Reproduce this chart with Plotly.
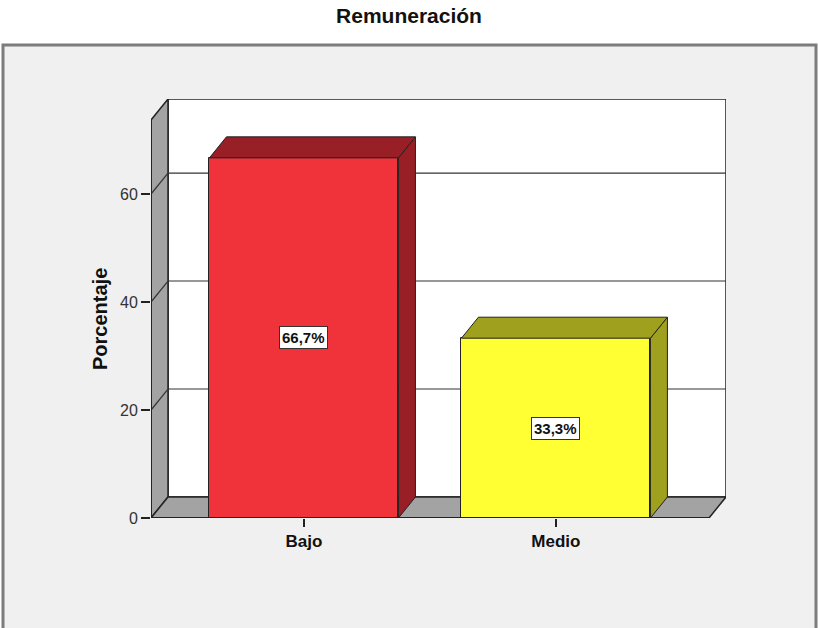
import plotly.graph_objects as go

# ---- data -------------------------------------------------------------
categories = ["Bajo", "Medio"]
percentages = [66.7, 33.3]
y_ticks = [0, 20, 40, 60]

face_colors = ["#f0323a", "#ffff33"]
shade_colors = ["#971f25", "#a0a01f"]

# ---- geometry of the pseudo-3D frame (data units) ----------------------
W, H = 818, 628
M_L, M_R, M_T, M_B = 151, 92, 99, 110
X_RANGE = [-0.607, 1.675]
Y_RANGE = [0, 77.6]
DX, DY = 0.0675, 3.89          # depth offset of the back plane
BAR_W = 0.75

x0 = X_RANGE[0]                 # front-left corner
x1 = X_RANGE[1] - DX            # front-right corner
y_top = Y_RANGE[1]              # top of the back wall
y_top_front = y_top - DY        # top of the front (axis) edge

EDGE = "#222222"
WALL = "#a3a3a3"
FONT = "Liberation Sans, Arial, sans-serif"

shapes = []


def path(points):
    return "M " + " L ".join(f"{px},{py}" for px, py in points) + " Z"


# outer chart frame (paper coordinates derived from the margins)
pw, ph = W - M_L - M_R, H - M_T - M_B
shapes.append(dict(
    type="rect", xref="paper", yref="paper", layer="below",
    x0=(3 - M_L) / pw, x1=(816 - M_L) / pw,
    y0=(H - M_B - 660) / ph, y1=(H - M_B - 45) / ph,
    fillcolor="#f0f0f0", line=dict(color="#7c7c7c", width=3),
))

# back wall
shapes.append(dict(
    type="rect", xref="x", yref="y", layer="below",
    x0=x0 + DX, x1=x1 + DX, y0=DY, y1=y_top,
    fillcolor="white", line=dict(color=EDGE, width=1.5),
))
# left wall
shapes.append(dict(
    type="path", xref="x", yref="y", layer="below",
    path=path([(x0, 0), (x0 + DX, DY), (x0 + DX, y_top), (x0, y_top_front)]),
    fillcolor=WALL, line=dict(color=EDGE, width=1.5),
))
# floor
shapes.append(dict(
    type="path", xref="x", yref="y", layer="below",
    path=path([(x0, 0), (x1, 0), (x1 + DX, DY), (x0 + DX, DY)]),
    fillcolor=WALL, line=dict(color=EDGE, width=1.5),
))
# gridlines on back wall and left wall
for v in y_ticks[1:]:
    shapes.append(dict(type="line", xref="x", yref="y", layer="below",
                       x0=x0 + DX, x1=x1 + DX, y0=v + DY, y1=v + DY,
                       line=dict(color="#333333", width=1.2)))
    shapes.append(dict(type="line", xref="x", yref="y", layer="below",
                       x0=x0, x1=x0 + DX, y0=v, y1=v + DY,
                       line=dict(color="#333333", width=1.2)))
# front axis lines
shapes.append(dict(type="line", xref="x", yref="y", layer="above",
                   x0=x0, x1=x0, y0=0, y1=y_top_front,
                   line=dict(color=EDGE, width=2)))
shapes.append(dict(type="line", xref="x", yref="y", layer="above",
                   x0=x0, x1=x1, y0=0, y1=0,
                   line=dict(color=EDGE, width=2)))

fig = go.Figure()

# front faces of the bars
xs = list(range(len(categories)))
fig.add_trace(go.Bar(
    x=xs, y=percentages, width=BAR_W,
    marker=dict(color=face_colors, line=dict(color=EDGE, width=1)),
    hoverinfo="skip", showlegend=False,
))

# top and side faces of the bars
for xc, v, shade in zip(xs, percentages, shade_colors):
    xl, xr = xc - BAR_W / 2, xc + BAR_W / 2
    side = [(xr, 0), (xr + DX, DY), (xr + DX, v + DY), (xr, v), (xr, 0)]
    top = [(xl, v), (xr, v), (xr + DX, v + DY), (xl + DX, v + DY), (xl, v)]
    for poly in (side, top):
        fig.add_trace(go.Scatter(
            x=[p[0] for p in poly], y=[p[1] for p in poly],
            mode="lines", fill="toself", fillcolor=shade,
            line=dict(color=EDGE, width=1),
            hoverinfo="skip", showlegend=False,
        ))

# value labels in the middle of each bar
annotations = []
for xc, v in zip(xs, percentages):
    annotations.append(dict(
        x=xc, y=v / 2, xref="x", yref="y", showarrow=False,
        text=f"{v:.1f}".replace(".", ",") + "%",
        font=dict(family=FONT, size=15, color="#111111", weight="bold"),
        bgcolor="white", bordercolor="#333333", borderwidth=1, borderpad=2,
    ))

# y-axis title
annotations.append(dict(
    x=(100 - M_L) / pw, y=(y_top_front / 2) / Y_RANGE[1],
    xref="paper", yref="paper", showarrow=False, textangle=-90,
    text="Porcentaje", xanchor="center", yanchor="middle",
    font=dict(family=FONT, size=20, color="#111111", weight="bold"),
))

fig.update_layout(
    width=W, height=H,
    margin=dict(l=M_L, r=M_R, t=M_T, b=M_B),
    paper_bgcolor="white", plot_bgcolor="#f0f0f0",
    title=dict(
        text="Remuneración", x=0.5, xanchor="center",
        y=1 - 16 / H, yanchor="middle",
        font=dict(family=FONT, size=21, color="#111111", weight="bold"),
    ),
    shapes=shapes, annotations=annotations,
    xaxis=dict(
        range=X_RANGE, tickvals=xs, ticktext=categories,
        showgrid=False, zeroline=False, showline=False,
        ticks="outside", ticklen=8, tickwidth=1.5, tickcolor=EDGE,
        tickfont=dict(family=FONT, size=17, color="#111111", weight="bold"),
        fixedrange=True,
    ),
    yaxis=dict(
        range=Y_RANGE, tickvals=y_ticks,
        showgrid=False, zeroline=False, showline=False,
        ticks="outside", ticklen=9, tickwidth=1.5, tickcolor=EDGE,
        tickfont=dict(family=FONT, size=16, color="#333333"),
        fixedrange=True,
    ),
    bargap=0,
)

fig.write_html("out.html")
